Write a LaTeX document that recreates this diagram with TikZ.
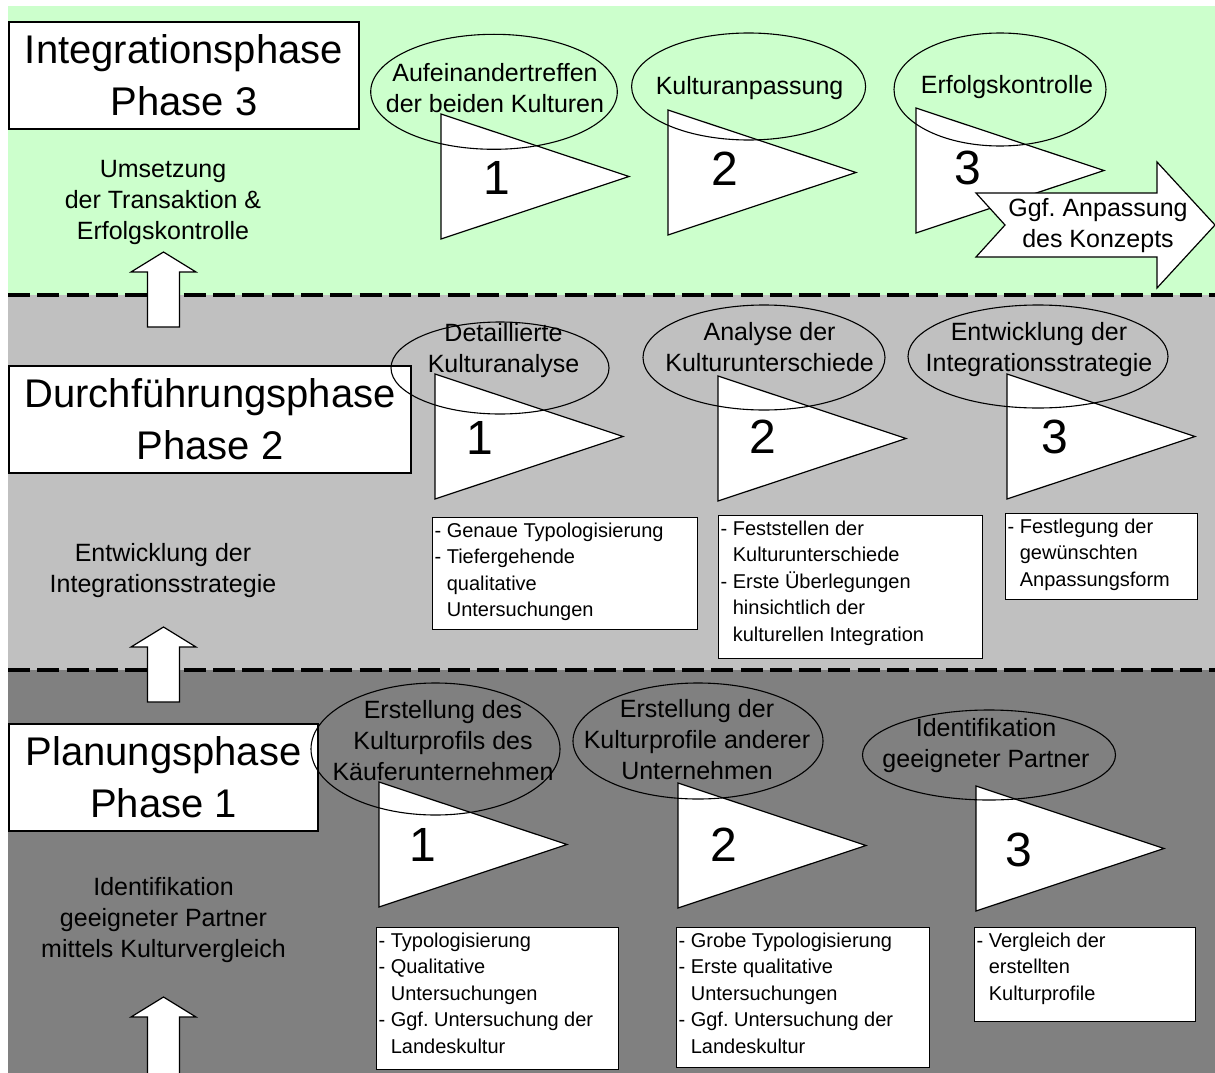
\documentclass[tikz,border=0pt]{standalone}
\usepackage{fontspec}
\setmainfont{Liberation Sans}
\frenchspacing

\definecolor{phasegreen}{HTML}{CCFFCC}
\definecolor{phasegray}{HTML}{C0C0C0}
\definecolor{phasedark}{HTML}{808080}

\newcommand{\indl}{\hphantom{- }}
\newcommand{\listtext}[3]{\parbox[t][#2][t]{#1}{\fontsize{20}{26.6}\selectfont #3}}

\tikzset{
  phasebox/.style={draw,fill=white,line width=1.2pt,align=center,inner sep=0pt,font=\fontsize{40}{52}\selectfont},
  phasetext/.style={align=center,inner sep=0pt,font=\fontsize{25}{31}\selectfont},
  steptext/.style={align=center,inner sep=0pt,font=\fontsize{25}{31}\selectfont},
  stepnum/.style={inner sep=0pt,font=\fontsize{48}{48}\selectfont},
  listbox/.style={draw,fill=white,line width=1.2pt,anchor=north west,inner xsep=2pt,inner ysep=5pt},
  flag/.style={draw,fill=white,line width=1.2pt},
}

\begin{document}
\begin{tikzpicture}[x=1pt,y=-1pt]
\useasboundingbox (0,0) rectangle (1215,1073);
\fill[phasegreen] (8,6) rectangle (1215,295);
\fill[phasegray] (8,295) rectangle (1215,670);
\fill[phasedark] (8,670) rectangle (1215,1073);

\foreach \yy in {295,670}{
  \draw[line width=4.5pt,dash pattern=on 22pt off 7.3pt] (8,\yy) -- (1215,\yy);
};

\foreach \tip/\bot in {252/327,627/702,997/1080}{
  \filldraw[flag] (147.5,\bot) -- (147.5,\tip+20) -- (131,\tip+20) -- (163.5,\tip)
    -- (196,\tip+20) -- (179.5,\tip+20) -- (179.5,\bot) -- cycle;
};

\node[phasebox,minimum width=350pt,minimum height=107pt] (ph3) at (184,75.5) {Integrationsphase\\Phase 3};
\node[phasebox,minimum width=402pt,minimum height=107pt] (ph2) at (210,419.5) {Durchführungsphase\\Phase 2};
\node[phasebox,minimum width=309pt,minimum height=107pt] (ph1) at (163.5,777.5) {Planungsphase\\Phase 1};

\node[phasetext] (goal3) at (163,202) {Umsetzung\\der Transaktion \&\\Erfolgskontrolle};
\node[phasetext] (goal2) at (163,571) {Entwicklung der\\Integrationsstrategie};
\node[phasetext] (goal1) at (163.5,920) {Identifikation\\geeigneter Partner\\mittels Kulturvergleich};

\foreach \tx/\ty/\nx/\ny/\d/\nm in {
  441/114/496.8/177.5/1/n31, 668/110/725/169/2/n32, 916/108/968/167.5/3/n33,
  435/374/479.8/437.5/1/n21, 718/376/762.7/437/2/n22, 1007/374/1055/437/3/n23,
  379/782/422.8/845/1/n11, 678/783/723.5/845/2/n12, 976/786/1018.6/849.7/3/n13}{
  \filldraw[flag] (\tx,\ty) -- (\tx+188,\ty+62.5) -- (\tx,\ty+125) -- cycle;
  \node[stepnum] (\nm) at (\nx,\ny) {\d};
};

\draw[line width=1.1pt] (494,91.8) ellipse [x radius=123.3,y radius=57.5];
\node[steptext] (s31) at (495,87.9) {Aufeinandertreffen\\der beiden Kulturen};
\draw[line width=1.1pt] (748.6,86.5) ellipse [x radius=117,y radius=53.5];
\node[steptext] (s32) at (749.6,88.5) {Kulturanpassung};
\draw[line width=1.1pt] (1000,89.5) ellipse [x radius=106,y radius=56.5];
\node[steptext] (s33) at (1007,87.5) {Erfolgskontrolle};

\draw[line width=1.1pt] (500,368) ellipse [x radius=109,y radius=46];
\node[steptext] (s21) at (503.5,350.5) {Detaillierte\\Kulturanalyse};
\draw[line width=1.1pt] (764,357.5) ellipse [x radius=121,y radius=52.5];
\node[steptext] (s22) at (769.6,346.9) {Analyse der\\Kulturunterschiede};
\draw[line width=1.1pt] (1038,356.5) ellipse [x radius=130,y radius=51.5];
\node[steptext] (s23) at (1039,349.5) {Entwicklung der\\Integrationsstrategie};

\draw[line width=1.1pt] (435.5,749) ellipse [x radius=124.5,y radius=66];
\node[steptext] (s11) at (443,741) {Erstellung des\\Kulturprofils des\\Käuferunternehmen};
\draw[line width=1.1pt] (698,741) ellipse [x radius=125,y radius=58];
\node[steptext] (s12) at (697,739.4) {Erstellung der\\Kulturprofile anderer\\Unternehmen};
\draw[line width=1.1pt] (989,755) ellipse [x radius=126.5,y radius=45];
\node[steptext] (s13) at (986,746) {Identifikation\\geeigneter Partner};

\filldraw[flag] (976,193) -- (1157,193) -- (1157,162) -- (1215,225) -- (1157,288)
  -- (1157,257) -- (976,257) -- (1005,225) -- cycle;
\node[steptext] (adj) at (1098,226) {Ggf. Anpassung\\des Konzepts};

\node[listbox] (l21) at (432,517) {\listtext{261pt}{102pt}{- Genaue Typologisierung\\- Tiefergehende\\\indl qualitative\\\indl Untersuchungen}};
\node[listbox] (l22) at (718,515) {\listtext{260pt}{133pt}{- Feststellen der\\\indl Kulturunterschiede\\- Erste Überlegungen\\\indl hinsichtlich der\\\indl kulturellen Integration}};
\node[listbox] (l23) at (1005,513) {\listtext{188pt}{76pt}{- Festlegung der\\\indl gewünschten\\\indl Anpassungsform}};

\node[listbox] (l11) at (376,927) {\listtext{238pt}{132pt}{- Typologisierung\\- Qualitative\\\indl Untersuchungen\\- Ggf. Untersuchung der\\\indl Landeskultur}};
\node[listbox] (l12) at (676,927) {\listtext{249pt}{130pt}{- Grobe Typologisierung\\- Erste qualitative\\\indl Untersuchungen\\- Ggf. Untersuchung der\\\indl Landeskultur}};
\node[listbox] (l13) at (974,927) {\listtext{217pt}{84pt}{- Vergleich der\\\indl erstellten\\\indl Kulturprofile}};
\end{tikzpicture}
\end{document}
